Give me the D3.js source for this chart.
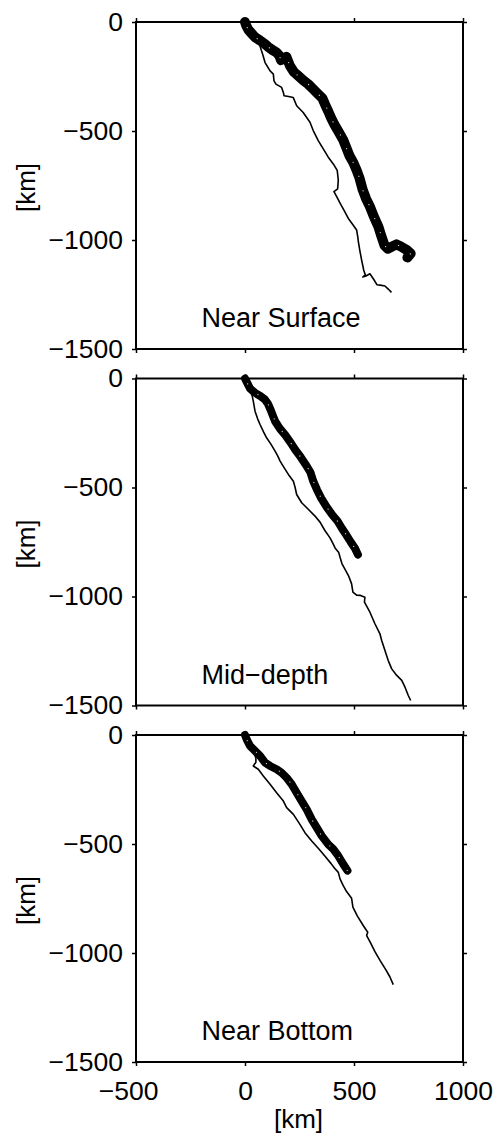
<!DOCTYPE html>
<html>
<head>
<meta charset="utf-8">
<script src="https://cdn.jsdelivr.net/npm/d3@7"></script>
<style>
  html, body { margin: 0; padding: 0; background: #fff; }
  svg { display: block; }
  text { font-family: "Liberation Sans", Arial, Helvetica, sans-serif; fill: #000; }
</style>
</head>
<body>
<script>
// ---------- data (km) ----------
const panelNames = ["Near Surface", "Mid\u2212depth", "Near Bottom"];
const xTicks = [-500, 0, 500, 1000];
const yTicks = [0, -500, -1000, -1500];
const xDomain = [-500, 1000];
const yDomain = [-1500, 0];
const labelPos = [-200, -1400];

// single trajectory (thin line)
const thinSurface = [[0,0],[15,-35],[30,-52],[46,-72],[60,-92],[69,-110],[75,-130],[81,-148],[92,-186],[115,-224],[130,-239],[133,-270],[142,-285],[168,-300],[176,-323],[179,-338],[200,-342],[221,-346],[237,-384],[267,-415],[298,-460],[313,-498],[336,-544],[359,-582],[382,-620],[405,-651],[423,-681],[428,-725],[425,-765],[408,-778],[420,-800],[436,-831],[455,-865],[474,-901],[495,-930],[512,-954],[518,-990],[520,-1008],[527,-1050],[535,-1092],[545,-1140],[552,-1160],[540,-1170],[555,-1165],[573,-1155],[590,-1180],[605,-1205],[620,-1207],[642,-1211],[657,-1225],[672,-1240]];
const thinMid = [[0,0],[15,-25],[23,-50],[33,-80],[38,-104],[46,-150],[58,-185],[69,-211],[85,-245],[99,-272],[118,-300],[138,-333],[150,-355],[161,-379],[180,-410],[199,-440],[222,-471],[230,-500],[237,-532],[260,-570],[290,-600],[320,-630],[345,-660],[365,-695],[390,-731],[405,-760],[413,-777],[430,-798],[436,-820],[445,-850],[459,-876],[475,-905],[489,-942],[495,-980],[512,-994],[530,-995],[550,-1003],[548,-1026],[573,-1072],[596,-1125],[619,-1171],[627,-1202],[642,-1248],[657,-1294],[673,-1332],[696,-1362],[719,-1385],[734,-1416],[749,-1454],[760,-1477]];
const thinBottom = [[0,0],[12,-28],[25,-55],[40,-80],[50,-105],[50,-125],[38,-142],[61,-157],[84,-188],[115,-226],[145,-265],[176,-303],[191,-333],[222,-364],[252,-410],[275,-448],[306,-486],[340,-524],[370,-560],[395,-590],[410,-610],[428,-630],[436,-660],[450,-690],[466,-718],[489,-749],[495,-790],[515,-830],[543,-875],[563,-905],[558,-920],[573,-948],[596,-994],[620,-1035],[645,-1075],[665,-1110],[680,-1145]];

// ensemble band (thick line)
const bandSurface = [[0,0],[5,-15],[15,-35],[30,-52],[46,-70],[69,-85],[90,-100],[107,-115],[125,-128],[145,-140],[158,-155],[165,-175],[178,-165],[190,-160],[198,-180],[206,-201],[225,-230],[244,-247],[268,-268],[290,-285],[310,-305],[335,-330],[355,-350],[368,-380],[382,-410],[395,-440],[410,-470],[430,-505],[450,-540],[466,-580],[480,-615],[497,-645],[512,-680],[525,-715],[540,-770],[555,-810],[573,-847],[590,-890],[612,-939],[625,-980],[640,-1025],[655,-1040],[675,-1030],[695,-1020],[715,-1030],[741,-1045],[760,-1062],[745,-1080]];
const bandMid = [[0,0],[10,-20],[23,-46],[46,-66],[70,-80],[90,-95],[105,-115],[120,-150],[138,-196],[160,-230],[185,-260],[210,-295],[230,-326],[255,-360],[278,-394],[300,-430],[313,-471],[330,-510],[350,-550],[375,-590],[400,-625],[425,-655],[445,-688],[465,-718],[485,-750],[505,-780],[518,-808]];
const bandBottom = [[0,0],[10,-25],[23,-50],[46,-73],[69,-96],[92,-127],[115,-142],[145,-157],[168,-173],[191,-196],[214,-226],[237,-265],[260,-303],[283,-341],[306,-387],[329,-425],[352,-463],[382,-502],[405,-524],[428,-555],[451,-593],[470,-622]];

const thinSeries = [thinSurface, thinMid, thinBottom];
const bandSeries = [bandSurface, bandMid, bandBottom];

// ---------- layout ----------
const W = 496, H = 1136;
const left = 136, size = 327;
const tops = [22, 378.5, 735];
const bandWidths = [10, 8, 8];

const svg = d3.select("body").append("svg").attr("width", W).attr("height", H);

const x = d3.scaleLinear().domain(xDomain).range([0, size]);
const y = d3.scaleLinear().domain(yDomain).range([size, 0]);
const line = d3.line().x(d => x(d[0])).y(d => y(d[1]));
const fmt = d3.format("");

tops.forEach((top, i) => {
  const g = svg.append("g").attr("transform", `translate(${left},${top})`);

  // lines
  g.append("path").datum(thinSeries[i]).attr("d", line)
    .attr("fill", "none").attr("stroke", "#000").attr("stroke-width", 1.6)
    .attr("stroke-linejoin", "round");
  g.append("path").datum(bandSeries[i]).attr("d", line)
    .attr("fill", "none").attr("stroke", "#000").attr("stroke-width", bandWidths[i])
    .attr("stroke-linejoin", "round").attr("stroke-linecap", "round");
  g.append("path").datum(bandSeries[i]).attr("d", line)
    .attr("fill", "none").attr("stroke", "#fff").attr("stroke-width", 1.2)
    .attr("stroke-linecap", "round").attr("stroke-dasharray", "0.1,15")
    .attr("stroke-dashoffset", -6).attr("opacity", 0.8);

  // axes (ticks outward)
  const axL = g.append("g").call(d3.axisLeft(y).tickValues(yTicks).tickSize(4).tickPadding(9).tickFormat(fmt));
  const axR = g.append("g").attr("transform", `translate(${size},0)`)
    .call(d3.axisRight(y).tickValues(yTicks).tickSize(4).tickFormat(""));
  const axT = g.append("g").call(d3.axisTop(x).tickValues(xTicks).tickSize(4).tickFormat(""));
  const axB = g.append("g").attr("transform", `translate(0,${size})`)
    .call(d3.axisBottom(x).tickValues(xTicks).tickSize(4).tickPadding(15)
      .tickFormat(i === 2 ? fmt : ""));
  [axL, axR, axT, axB].forEach(a => {
    a.select(".domain").remove();
    a.selectAll(".tick line").attr("stroke", "#000").attr("stroke-width", 1.5);
    a.selectAll("text").style("font-size", "26.5px")
      .style("font-family", '"Liberation Sans", Arial, sans-serif');
  });
  axB.selectAll(".tick text").attr("dx", d => d < 0 ? "-0.3em" : 0);

  // frame
  g.append("rect").attr("x", 0).attr("y", 0).attr("width", size).attr("height", size)
    .attr("fill", "none").attr("stroke", "#000").attr("stroke-width", 2);

  // panel label
  g.append("text").attr("x", x(labelPos[0])).attr("y", y(labelPos[1]))
    .style("font-size", "27px").text(panelNames[i]);

  // y axis title
  svg.append("text")
    .attr("transform", `translate(35,${top + size / 2 + 2}) rotate(-90)`)
    .attr("text-anchor", "middle").style("font-size", "26px").text("[km]");
});

// x axis title
svg.append("text").attr("x", left + size / 2 - 1).attr("y", 1128)
  .attr("text-anchor", "middle").style("font-size", "26px").text("[km]");
</script>
</body>
</html>
